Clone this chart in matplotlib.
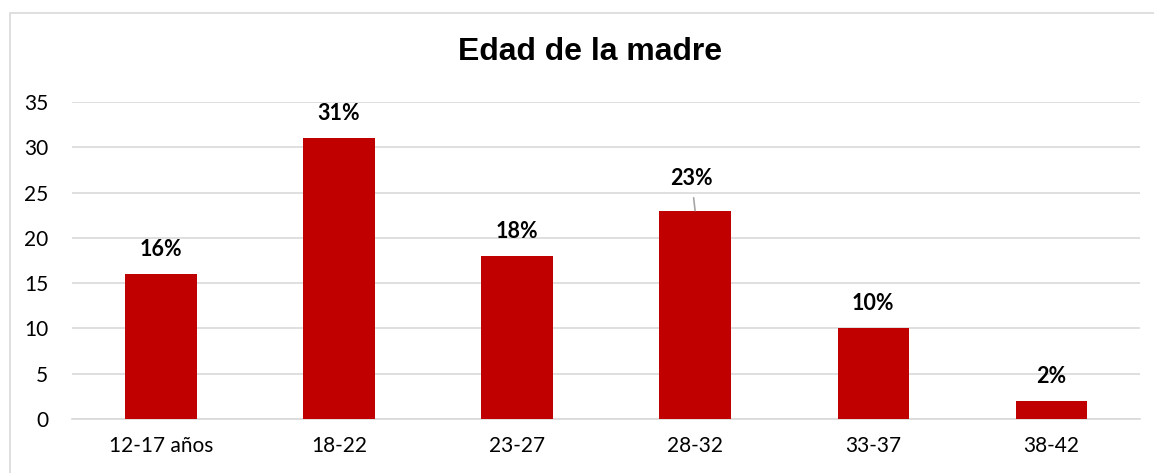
import matplotlib.pyplot as plt
from matplotlib.patches import Rectangle

categories = ["12-17 años", "18-22", "23-27", "28-32", "33-37", "38-42"]
values = [16, 31, 18, 23, 10, 2]
labels = ["16%", "31%", "18%", "23%", "10%", "2%"]
yticks = [0, 5, 10, 15, 20, 25, 30, 35]

plt.rcParams['font.family'] = ['Lato', 'DejaVu Sans']

fig = plt.figure(figsize=(11.54, 4.73), dpi=100)
ax = fig.add_axes([0.0624, 0.1142, 0.9256, 0.6702])

# outer chart frame
fig.patches.append(Rectangle((0.009, -0.01), 1.2, 0.983, transform=fig.transFigure,
                             fill=False, edgecolor='#d9d9d9', linewidth=1.2))

x = range(len(categories))
ax.bar(x, values, width=0.4, color='#c00000', zorder=3)

ax.set_ylim(0, 35)
ax.set_xlim(-0.5, len(categories) - 0.5)
ax.set_yticks(yticks)
ax.set_xticks(list(x))
ax.set_xticklabels(categories)
ax.tick_params(axis='both', length=0, labelsize=15, colors='black')
ax.tick_params(axis='y', pad=17)
ax.tick_params(axis='x', pad=12)
ax.grid(axis='y', color='#d9d9d9', linewidth=1.2, zorder=0)
for s in ['top', 'right', 'left']:
    ax.spines[s].set_visible(False)
ax.spines['bottom'].set_color('#d9d9d9')
ax.spines['bottom'].set_linewidth(1.2)

for i, (v, lab) in enumerate(zip(values, labels)):
    if lab == "23%":
        # label pulled up a bit, with a small leader line like the original
        ax.annotate(lab, xy=(i, v), xytext=(i - 0.02, v + 3.5), ha='center', va='center',
                    fontsize=15.5, fontweight='bold',
                    arrowprops=dict(arrowstyle='-', color='#a6a6a6', lw=1.2,
                                    shrinkA=4, shrinkB=0))
    else:
        ax.text(i, v + 2.7, lab, ha='center', va='center', fontsize=15.5, fontweight='bold')

fig.text(0.511, 0.89, "Edad de la madre", ha='center', va='center',
         fontsize=23, fontweight='bold', family=['Liberation Sans', 'DejaVu Sans'])

fig.savefig("out.png", dpi=100)
